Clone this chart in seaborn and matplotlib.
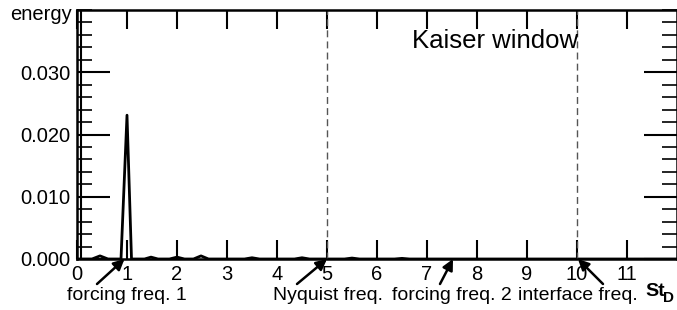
import matplotlib
matplotlib.use("Agg")
import matplotlib.pyplot as plt
from matplotlib.ticker import MultipleLocator, FormatStrFormatter
import seaborn as sns

# spectrum (Strouhal number vs energy)
freq = [0.0, 0.3, 0.46, 0.62, 0.88, 1.0, 1.09, 1.35, 1.48, 1.62, 1.85, 2.0, 2.15,
        2.33, 2.48, 2.63, 3.35, 3.5, 3.65, 4.35, 4.5, 4.65, 5.35, 5.5, 5.65,
        6.35, 6.5, 6.65, 12.0]
energy = [0.0, 0.0, 0.0005, 0.0, 0.0, 0.0231, 0.0, 0.0, 0.0003, 0.0, 0.0, 0.0003, 0.0,
          0.0, 0.0005, 0.0, 0.0, 0.0002, 0.0, 0.0, 0.0002, 0.0, 0.0, 0.00015, 0.0,
          0.0, 0.0001, 0.0, 0.0]

x_ticks = list(range(0, 12))
y_ticks = [0.0, 0.01, 0.02, 0.03]
marker_lines = [5, 10]

# annotations: label, arrow tip (data x), text left (pixels), arrow tail (pixels)
notes = [
    ("forcing freq. 1", 0.95, 67, 97),
    ("Nyquist freq.", 5.0, 273, 297),
    ("forcing freq. 2", 7.52, 392, 440),
    ("interface freq.", 10.02, 518, 603),
]

sns.set_style("ticks")
plt.rcParams['font.family'] = ['Liberation Sans', 'DejaVu Sans']
plt.rcParams['text.color'] = 'black'
plt.rcParams['xtick.color'] = 'black'
plt.rcParams['ytick.color'] = 'black'
plt.rcParams['axes.edgecolor'] = 'black'

W, H = 677, 310
fig = plt.figure(figsize=(W / 100, H / 100), dpi=100)
ax = fig.add_axes([77 / W, 1 - 259 / H, 1 - 77 / W, 249 / H])

sns.lineplot(x=freq, y=energy, color='black', lw=2, ax=ax)

for xv in marker_lines:
    ax.axvline(xv, color='#555555', lw=1, ls=(0, (5, 3)))
ax.axvline(0.07, color='black', lw=1.5)

ax.set_xlim(0, 12)
ax.set_ylim(0, 0.04)
ax.set_xticks(x_ticks)
ax.set_yticks(y_ticks)
ax.yaxis.set_major_formatter(FormatStrFormatter('%.3f'))
ax.yaxis.set_minor_locator(MultipleLocator(0.002))
ax.tick_params(axis='both', which='both', direction='in', top=True, right=True,
               labelsize=14.5, width=1.5, color='black', labelcolor='black')
ax.tick_params(axis='x', which='major', length=14, pad=4)
ax.tick_params(axis='y', which='major', length=24, pad=5)
ax.tick_params(axis='y', which='minor', length=11, width=1.2)
for s in ax.spines.values():
    s.set_linewidth(1.8)
ax.set_xlabel('')
ax.set_ylabel('')

ax.text(0.558, 0.847, 'Kaiser window', transform=ax.transAxes, fontsize=18.5,
        ha='left', va='baseline')

fig.text(72 / W, 1 - 20 / H, 'energy', fontsize=14.5, ha='right', va='baseline')
fig.text(645 / W, 1 - 296 / H, 'St', fontsize=14, fontweight='bold', ha='left', va='baseline')
fig.text(663 / W, 1 - 302 / H, 'D', fontsize=11, fontweight='bold', ha='left', va='baseline')

for label, tip, tx, tail in notes:
    ax.annotate('', xy=(tip, 0), xycoords='data',
                xytext=(tail, H - 284), textcoords='figure pixels',
                arrowprops=dict(arrowstyle='-|>', color='black', lw=1.8,
                                mutation_scale=16, shrinkA=0, shrinkB=0))
    fig.text(tx / W, 1 - 300 / H, label, fontsize=14, ha='left', va='baseline')

fig.savefig('out.png', dpi=100)
